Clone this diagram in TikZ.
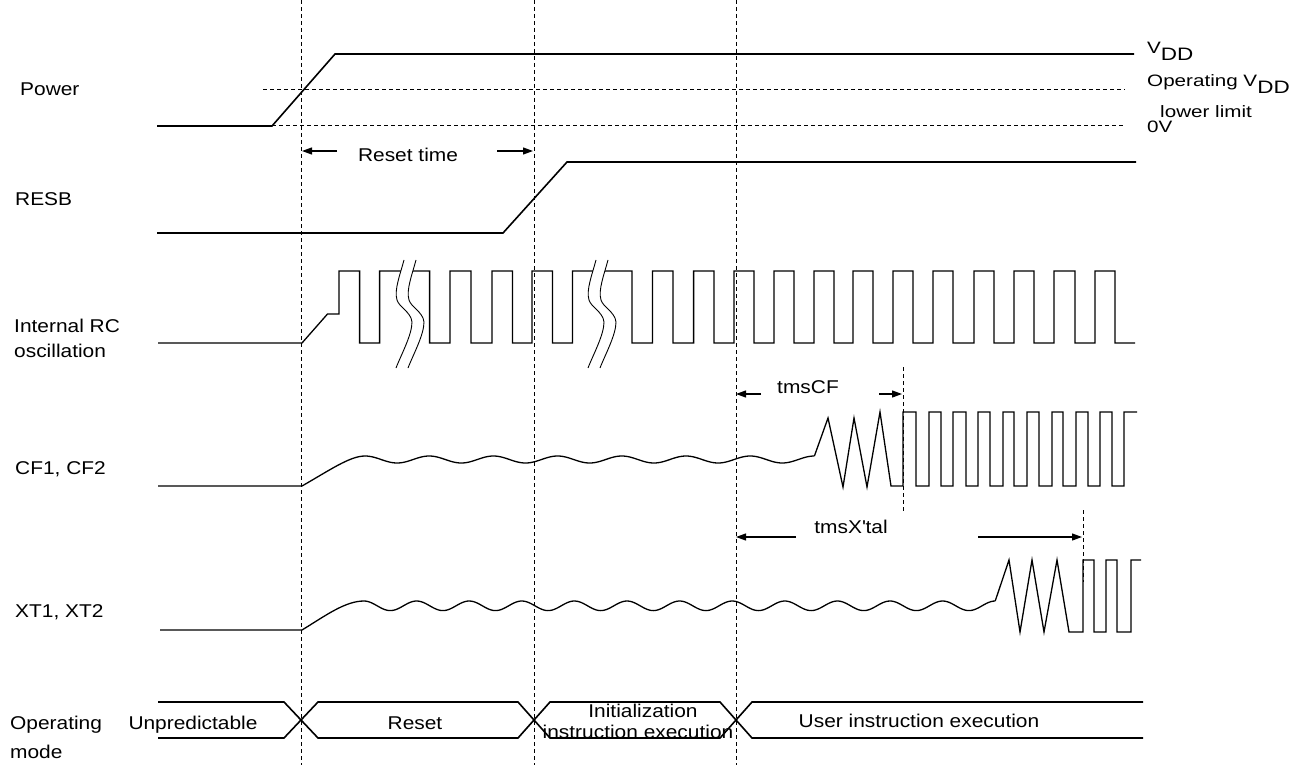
\documentclass[tikz,border=0pt]{standalone}
\usepackage{fontspec}
\setmainfont{Liberation Sans}
\newfontfamily\lblfont[FakeStretch=1.13]{Liberation Sans}
\newfontfamily\rlblfont[FakeStretch=1.25]{Liberation Sans}
\usetikzlibrary{arrows.meta}
\newcommand{\subDD}{\raisebox{-7pt}{\fontsize{18}{18}\selectfont DD}}
\begin{document}
\begin{tikzpicture}[x=1pt,y=-1pt,
  sig/.style={line width=1.6pt, line join=miter},
  sq/.style={line width=1.3pt, line join=miter},
  dsh/.style={line width=1pt, dash pattern=on 4pt off 3pt},
  arr/.style={line width=1.2pt, -{Triangle[length=10pt,width=7pt]}},
  lbl/.style={inner sep=0pt, font=\lblfont\fontsize{18.5}{22}\selectfont},
  rlbl/.style={inner sep=0pt, anchor=base west, font=\rlblfont\fontsize{16.5}{20}\selectfont},
  brk/.style={line width=0.9pt}]
\useasboundingbox (0,0) rectangle (1309,765);

% vertical dashed guides
\draw[dsh] (301,0) -- (301,765);
\draw[dsh] (534,0) -- (534,765);
\draw[dsh] (736,0) -- (736,765);

% Power
\draw[sig] (157,126) -- (272,126) -- (335,54) -- (1134,54);
\draw[dsh] (263,90) -- (1125,90);
\draw[dsh] (272,126) -- (1125,126);

% RESB
\draw[sig] (157,233) -- (503,233) -- (567,162) -- (1136,162);

% Reset time
\draw[arr] (337,151) -- (302,151);
\draw[arr] (497,151) -- (533,151);

% Internal RC oscillation
\draw[sq] (158,343) -- (302,343) -- (327.5,314) -- (339,314) -- (339,271)
  -| (359.6,343) -| (379.6,271) -| (429.6,343) -| (450,271) -| (471,343)
  -| (492,271) -| (512.5,343) -| (532,271) -| (552.5,343) -| (572.5,271)
  -| (632,343) -| (652.5,271) -| (673,343) -| (693.6,271) -| (714,343)
  -| (734,271) -| (754,343) -| (774,271) -| (794,343) -| (814,271)
  -| (834,343) -| (853,271) -| (873,343) -| (893,271) -| (913,343)
  -| (933,271) -| (953,343) -| (974,271) -| (994,343) -| (1014,271)
  -| (1034,343) -| (1054,271) -| (1075,343) -| (1095,271) -| (1115,343)
  -- (1135,343);

% break marks
\foreach \cx in {404,596} {
  \fill[white] (\cx,260) .. controls (\cx-4,275) and (\cx-10,290) .. (\cx-7,300)
     .. controls (\cx-5,307) and (\cx+7,312) .. (\cx+8,322)
     .. controls (\cx+8,335) and (\cx-3,355) .. (\cx-8,368)
     -- (\cx+4,368) .. controls (\cx+9,355) and (\cx+20,335) .. (\cx+20,322)
     .. controls (\cx+19,312) and (\cx+7,307) .. (\cx+5,300)
     .. controls (\cx+2,290) and (\cx+8,275) .. (\cx+12,260) -- cycle;
  \draw[brk] (\cx,260) .. controls (\cx-4,275) and (\cx-10,290) .. (\cx-7,300)
     .. controls (\cx-5,307) and (\cx+7,312) .. (\cx+8,322)
     .. controls (\cx+8,335) and (\cx-3,355) .. (\cx-8,368);
  \draw[brk] (\cx+12,260) .. controls (\cx+8,275) and (\cx+2,290) .. (\cx+5,300)
     .. controls (\cx+7,307) and (\cx+19,312) .. (\cx+20,322)
     .. controls (\cx+20,335) and (\cx+9,355) .. (\cx+4,368);
}

% CF1, CF2
\draw[sq] (158,486) -- (302,486) .. controls (330,470) and (350,456) .. (365,456);
\draw[sq] plot[domain=365:814.4, samples=240] (\x, {459.5-3.5*cos(5.6075*(\x-365))});
\draw[sq] (814.4,456) -- (828,418) -- (843,487) -- (854,418) -- (867,487)
  -- (880,412) -- (891,486) -- (903,486) -- (903,412)
  -| (916,486) -| (929,412) -| (941,486) -| (953,412) -| (966,486)
  -| (978,412) -| (990,486) -| (1003,412) -| (1014,486) -| (1027,412)
  -| (1039,486) -| (1052,412) -| (1063,486) -| (1076,412) -| (1088,486)
  -| (1100,412) -| (1112,486) -| (1124,412) -- (1137,412);

% tmsCF
\draw[dsh] (903,367) -- (903,513);
\draw[arr] (761,394) -- (736,394);
\draw[arr] (879,394) -- (902,394);

% XT1, XT2
\draw[sq] (160,630) -- (302,630) .. controls (325,616) and (345,601) .. (364,601);
\draw[sq] plot[domain=364:995.2, samples=300] (\x, {605.8-4.8*cos(6.8441*(\x-364))});
\draw[sq] (995.2,601) -- (1009,560) -- (1020,632) -- (1032,560) -- (1044,632)
  -- (1057,560) -- (1069,632) -- (1083,632) -- (1083,560)
  -| (1094,632) -| (1106,560) -| (1117,632) -| (1131,560) -- (1141,560);

% tmsX'tal
\draw[dsh] (1083,510) -- (1083,582);
\draw[arr] (796,537) -- (736,537);
\draw[arr] (978,537) -- (1082,537);

% Operating mode bus
\draw[sig] (158,702) -- (284,702) -- (318,738) -- (518,738) -- (550,702)
  -- (720,702) -- (752,738) -- (1143,738);
\draw[sig] (158,738) -- (284,738) -- (318,702) -- (518,702) -- (550,738)
  -- (720,738) -- (752,702) -- (1143,702);

% labels
\node[lbl, anchor=base west] (power) at (20,96) {Power};
\node[lbl, anchor=base west] (resb) at (15,205) {RESB};
\node[lbl, anchor=base west] (rc1) at (14,332) {Internal RC};
\node[lbl, anchor=base west] (rc2) at (14,357) {oscillation};
\node[lbl, anchor=base west] (cf) at (15,474) {CF1, CF2};
\node[lbl, anchor=base west] (xt) at (15,617) {XT1, XT2};
\node[lbl, anchor=base west] (op1) at (10,729) {Operating};
\node[lbl, anchor=base west] (op2) at (10,758) {mode};

\node[rlbl] (vdd) at (1147,54) {V\subDD};
\node[rlbl] (opvdd) at (1147,87) {Operating V\subDD};
\node[rlbl] (lower) at (1160,118) {lower limit};
\node[rlbl] (zero) at (1147,133) {0V};

\node[lbl, anchor=base] (rt) at (408,161) {Reset time};
\node[lbl, anchor=base] (tcf) at (808,393) {tmsCF};
\node[lbl, anchor=base] (txt) at (851,533) {tmsX\textquotesingle tal};

\node[lbl, anchor=base] (unp) at (193,729) {Unpredictable};
\node[lbl, anchor=base] (rst) at (415,729) {Reset};
\node[lbl, anchor=base] (ini1) at (643,717) {Initialization};
\node[lbl, anchor=base] (ini2) at (638,738) {instruction execution};
\node[lbl, anchor=base] (usr) at (919,727) {User instruction execution};
\end{tikzpicture}
\end{document}
